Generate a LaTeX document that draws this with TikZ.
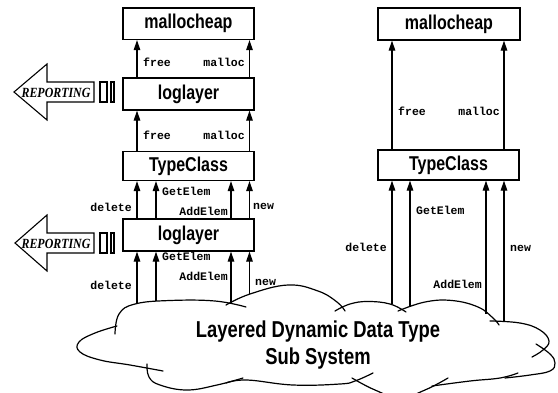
\documentclass[tikz,border=0pt]{standalone}
\usepackage{fontspec}
\usetikzlibrary{arrows.meta}
\newfontfamily\boxfont{Liberation Sans}[FakeStretch=0.8]
\newfontfamily\labfont{Liberation Mono}
\newfontfamily\repfont{Liberation Serif}[FakeStretch=0.85]
\begin{document}
\begin{tikzpicture}[x=1pt,y=-1pt,
  box/.style={draw, line width=1.2pt, inner sep=0pt, minimum width=131pt,
    font=\boxfont\bfseries\fontsize{20}{22}\selectfont},
  arr/.style={line width=1.2pt, -{Triangle[length=10pt,width=6.5pt]}},
  lab/.style={font=\labfont\bfseries\fontsize{11.5}{12}\selectfont, inner sep=0pt},
  cloudline/.style={line width=1.2pt, line cap=round},
  repbox/.style={line width=1.1pt, line join=miter},
  reptext/.style={font=\repfont\bfseries\itshape\fontsize{14}{15}\selectfont, inner sep=0pt}]
\useasboundingbox (0,0) rectangle (558,392);
\fill[white] (0,0) rectangle (558,392);

% ---------- left column boxes ----------
\node[box, minimum height=31.5pt] (mh1) at (188.5,23.75) {mallocheap};
\node[box, minimum height=32pt]   (ll1) at (188.5,94) {loglayer};
\node[box, minimum height=29pt]   (tc1) at (188.5,166) {TypeClass};
\node[box, minimum height=32pt]   (ll2) at (188.5,235) {loglayer};

% ---------- right column boxes ----------
\node[box, minimum width=142pt, minimum height=32pt] (mh2) at (449,24) {mallocheap};
\node[box, minimum width=141pt, minimum height=30pt] (tc2) at (448.5,165) {TypeClass};

% x positions of arrows
\coordinate (xa) at (137,0);
\coordinate (xb) at (156,0);
\coordinate (xc) at (231,0);
\coordinate (xd) at (249.5,0);
\coordinate (xe) at (392,0);
\coordinate (xf) at (410,0);
\coordinate (xg) at (486,0);
\coordinate (xh) at (504,0);

% cloud attachment points
\coordinate (ca) at (137,302.5);
\coordinate (cb) at (156,300.5);
\coordinate (cc) at (231,302.5);
\coordinate (cd) at (249.5,294);
\coordinate (ce) at (392,304);
\coordinate (cf) at (410,306);
\coordinate (cg) at (486,314);
\coordinate (ch) at (504,321);

% ---------- left column arrows ----------
\draw[arr] (ll1.north -| xa) -- (mh1.south -| xa);
\draw[arr] (ll1.north -| xd) -- (mh1.south -| xd);
\draw[arr] (tc1.north -| xa) -- (ll1.south -| xa);
\draw[arr] (tc1.north -| xd) -- (ll1.south -| xd);
\draw[arr] (ll2.north -| xa) -- (tc1.south -| xa);
\draw[arr] (ll2.north -| xb) -- (tc1.south -| xb);
\draw[arr] (ll2.north -| xc) -- (tc1.south -| xc);
\draw[arr] (ll2.north -| xd) -- (tc1.south -| xd);
\draw[arr] (ca) -- (ll2.south -| ca);
\draw[arr] (cb) -- (ll2.south -| cb);
\draw[arr] (cc) -- (ll2.south -| cc);
\draw[arr] (cd) -- (ll2.south -| cd);

% ---------- right column arrows ----------
\draw[arr] (tc2.north -| xe) -- (mh2.south -| xe);
\draw[arr] (tc2.north -| xh) -- (mh2.south -| xh);
\draw[arr] (ce) -- (tc2.south -| ce);
\draw[arr] (cf) -- (tc2.south -| cf);
\draw[arr] (cg) -- (tc2.south -| cg);
\draw[arr] (ch) -- (tc2.south -| ch);

% ---------- labels ----------
\node[lab, anchor=base west] (lf1) at (143,66) {free};
\node[lab, anchor=base east] (lm1) at (245,66) {malloc};
\node[lab, anchor=base west] (lf2) at (143,139) {free};
\node[lab, anchor=base east] (lm2) at (245,139) {malloc};
\node[lab, anchor=base west] (lg1) at (162,195) {GetElem};
\node[lab, anchor=base east] (ld1) at (132,211) {delete};
\node[lab, anchor=base east] (lae1) at (228,215) {AddElem};
\node[lab, anchor=base west] (ln1) at (253,209) {new};
\node[lab, anchor=base west] (lg2) at (162,260) {GetElem};
\node[lab, anchor=base east] (lae2) at (228,280) {AddElem};
\node[lab, anchor=base east] (ld2) at (132,289) {delete};
\node[lab, anchor=base west] (ln2) at (255,285) {new};
\node[lab, anchor=base west] (lf3) at (398,115) {free};
\node[lab, anchor=base east] (lm3) at (500,115) {malloc};
\node[lab, anchor=base west] (lg3) at (416,214) {GetElem};
\node[lab, anchor=base east] (ld3) at (387,251) {delete};
\node[lab, anchor=base west] (ln3) at (510,251) {new};
\node[lab, anchor=base east] (lae3) at (482,288) {AddElem};

% ---------- REPORTING arrows ----------
\draw[repbox] (14,92) -- (47,64) -- (47,82) -- (94,82) -- (94,102) -- (47,102) -- (47,120) -- cycle;
\node[reptext] (rep1) at (56,92.5) {REPORTING};
\draw[repbox] (100,82) rectangle (107,102);
\draw[repbox] (111,82) rectangle (114,102);

\draw[repbox] (15,243) -- (47,215) -- (47,233) -- (94,233) -- (94,253) -- (47,253) -- (47,271) -- cycle;
\node[reptext] (rep2) at (56,243.5) {REPORTING};
\draw[repbox] (100,233) rectangle (107,253);
\draw[repbox] (111,233) rectangle (114,253);

% ---------- cloud ----------
\draw[cloudline] plot[smooth, tension=0.7] coordinates {(115,334) (119,314) (135,304) (170,300.5) (215,301) (246,307)};
\draw[cloudline] plot[smooth, tension=0.7] coordinates {(226,305) (250,294) (288,285) (318,291) (337,302) (345,311)};
\draw[cloudline] plot[smooth, tension=0.7] coordinates {(335,311) (350,304) (368,301.5) (390,304) (406,312)};
\draw[cloudline] plot[smooth, tension=0.7] coordinates {(398,311) (425,302) (452,300.5) (478,307) (493,318) (499,325)};
\draw[cloudline] plot[smooth, tension=0.7] coordinates {(490,321) (520,323) (540,330) (549,341) (543,350) (532,357)};
\draw[cloudline] plot[smooth, tension=0.7] coordinates {(536,344) (550,354) (555,363) (550,371) (530,375) (505,378)};
\draw[cloudline] plot[smooth, tension=0.7] coordinates {(518,373) (500,378) (470,381) (432,386)};
\draw[cloudline] plot[smooth, tension=0.7] coordinates {(448,378) (425,390) (400,398) (375,390) (352,378)};
\draw[cloudline] plot[smooth, tension=0.7] coordinates {(226,383) (247,380) (293,385) (340,384) (355,381) (373,373)};
\draw[cloudline] plot[smooth, tension=0.7] coordinates {(147,364) (149,377) (160,385) (187,390) (217,385) (243,378)};
\draw[cloudline] plot[smooth, tension=0.7] coordinates {(117,326) (95,333) (79,342) (80,352) (100,360) (130,365) (163,371)};

\node[align=center, inner sep=0pt, font=\boxfont\bfseries\fontsize{23}{27}\selectfont] (cloudtext) at (318,345) {Layered Dynamic Data Type\\Sub System};
\end{tikzpicture}
\end{document}
